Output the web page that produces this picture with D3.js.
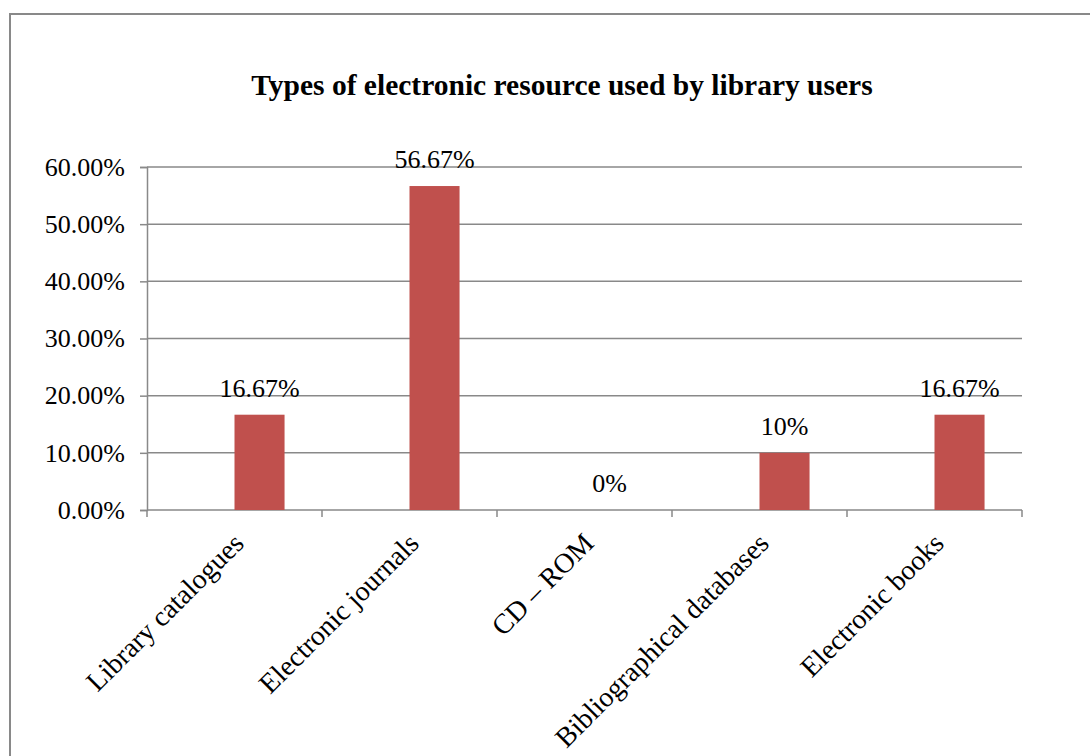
<!DOCTYPE html>
<html>
<head>
<meta charset="utf-8">
<title>Types of electronic resource used by library users</title>
<script src="https://cdn.jsdelivr.net/npm/d3@7"></script>
<style>
  body { margin: 0; background: #fff; }
  svg { display: block; font-family: "Liberation Serif", "Times New Roman", serif; }
  svg text { font-family: "Liberation Serif", "Times New Roman", serif; }
</style>
</head>
<body>
<svg id="chart" width="1090" height="756"></svg>
<script>
// chart data
const categories = ["Library catalogues", "Electronic journals", "CD – ROM", "Bibliographical databases", "Electronic books"];
const values = [0.1667, 0.5667, 0, 0.10, 0.1667];
const valueLabels = ["16.67%", "56.67%", "0%", "10%", "16.67%"];
const yTicks = [0, 0.1, 0.2, 0.3, 0.4, 0.5, 0.6];

const svg = d3.select("#chart");
const gridColor = "#898989";

// outer chart border (runs off the right and bottom edges)
svg.append("rect")
  .attr("x", 10).attr("y", 14)
  .attr("width", 1200).attr("height", 1000)
  .attr("fill", "none")
  .attr("stroke", gridColor)
  .attr("stroke-width", 2);

// title
svg.append("text")
  .attr("x", 562).attr("y", 95)
  .attr("text-anchor", "middle")
  .attr("font-size", 29.5)
  .attr("font-weight", "bold")
  .text("Types of electronic resource used by library users");

// scales
const x = d3.scaleBand().domain(categories).range([147, 1022]).padding(0);
const y = d3.scaleLinear().domain([0, 0.6]).range([510, 167]);
const barW = x.bandwidth() * 0.286;

// gridlines
svg.append("g")
  .selectAll("line")
  .data(yTicks.filter(d => d > 0))
  .join("line")
  .attr("x1", 147).attr("x2", 1022)
  .attr("y1", d => y(d)).attr("y2", d => y(d))
  .attr("stroke", gridColor)
  .attr("stroke-width", 1.5);

// y axis
const yAxis = svg.append("g")
  .attr("transform", "translate(147,0)")
  .call(d3.axisLeft(y).tickValues(yTicks).tickFormat(d3.format(".2%")).tickSize(7).tickPadding(15));
yAxis.attr("font-family", null).attr("font-size", null);
yAxis.select(".domain").attr("stroke", gridColor).attr("stroke-width", 1.5);
yAxis.selectAll(".tick line").attr("stroke", gridColor).attr("stroke-width", 1.5);
yAxis.selectAll(".tick text")
  .attr("font-size", 26)
  .attr("fill", "#000");

// x axis: ticks at category boundaries
const bounds = categories.map(c => x(c)).concat([x.range()[1]]);
svg.append("line")
  .attr("x1", 147).attr("x2", 1022)
  .attr("y1", y(0)).attr("y2", y(0))
  .attr("stroke", gridColor).attr("stroke-width", 1.5);
svg.append("g")
  .selectAll("line")
  .data(bounds)
  .join("line")
  .attr("x1", d => d).attr("x2", d => d)
  .attr("y1", y(0)).attr("y2", y(0) + 7)
  .attr("stroke", gridColor).attr("stroke-width", 1.5);

// bars (sit in the right half of each category)
svg.append("g")
  .selectAll("rect")
  .data(values)
  .join("rect")
  .attr("x", (d, i) => x(categories[i]) + x.bandwidth() / 2)
  .attr("y", d => y(d))
  .attr("width", barW)
  .attr("height", d => y(0) - y(d))
  .attr("fill", "#C0504D");

// value labels
svg.append("g")
  .selectAll("text")
  .data(values)
  .join("text")
  .attr("x", (d, i) => x(categories[i]) + x.bandwidth() / 2 + barW / 2)
  .attr("y", d => y(d) - 18)
  .attr("text-anchor", "middle")
  .attr("font-size", 26)
  .text((d, i) => valueLabels[i]);

// category labels, rotated
svg.append("g")
  .selectAll("text")
  .data(categories)
  .join("text")
  .attr("transform", d => `translate(${x(d) + x.bandwidth() / 2 + 4},538) rotate(-45)`)
  .attr("text-anchor", "end")
  .attr("dy", "0.35em")
  .attr("font-size", 28)
  .text(d => d);
</script>
</body>
</html>
